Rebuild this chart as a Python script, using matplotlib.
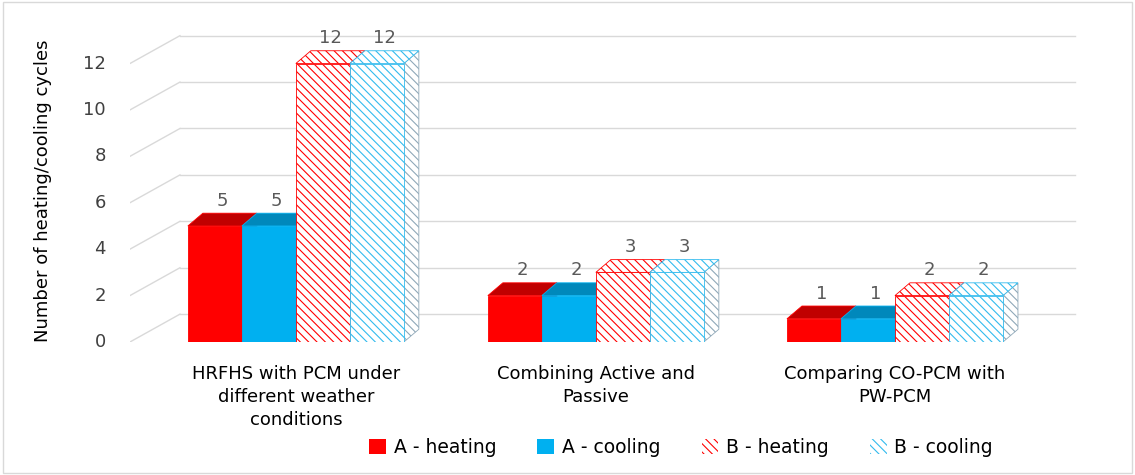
import numpy as np
import matplotlib.pyplot as plt
from matplotlib.patches import Polygon, Patch

categories = ["HRFHS with PCM under\ndifferent weather\nconditions",
              "Combining Active and\nPassive",
              "Comparing CO-PCM with\nPW-PCM"]
series = ["A - heating", "A - cooling", "B - heating", "B - cooling"]
values = {
    "A - heating": [5, 2, 1],
    "A - cooling": [5, 2, 1],
    "B - heating": [12, 3, 2],
    "B - cooling": [12, 3, 2],
}
yticks = [0, 2, 4, 6, 8, 10, 12]

red, red_dark = "#FF0000", "#C00000"
blue, blue_dark = "#00B0F0", "#0088BB"
styles = {
    "A - heating": dict(face=red, top=red_dark, side=red_dark, hatch=None),
    "A - cooling": dict(face=blue, top=blue_dark, side=blue_dark, hatch=None),
    "B - heating": dict(face="white", top="white", side="white", hatch="\\\\\\\\", hc=red),
    "B - cooling": dict(face="white", top="white", side="white", hatch="\\\\\\\\", hc="#33BBEE"),
}

fig = plt.figure(figsize=(11.35, 4.75), dpi=100)
fig.patches.append(plt.Rectangle((0.003, 0.005), 0.994, 0.99, transform=fig.transFigure,
                                 fill=False, edgecolor="#D9D9D9", lw=1))
ax = fig.add_axes([0.1145, 0.28, 0.837, 0.684])
ax.set_xlim(0, 950 / 300)
ax.set_ylim(0, 14)
ax.axis("off")

# back wall offset and bar depth
wx, wy = 50 / 300, 1.2
bdx, bdy = 0.05, 0.55
xend = 945 / 300

for v in yticks:
    ax.plot([wx, xend], [v + wy, v + wy], color="#D9D9D9", lw=1, zorder=0)
    ax.plot([0, wx], [v, v + wy], color="#D9D9D9", lw=1, zorder=0)
    ax.text(-0.08, v, str(v), ha="right", va="center", fontsize=13, color="#404040",
            clip_on=False)
ax.text(-0.29, 6.5, "Number of heating/cooling cycles", rotation=90, ha="center",
        va="center", fontsize=13, color="black", clip_on=False)

w = 0.18
centers = np.array([0.553, 1.553, 2.55])
plt.rcParams["hatch.linewidth"] = 0.8
for gi, c in enumerate(centers):
    for si, s in enumerate(series):
        st = styles[s]
        v = values[s][gi]
        x0 = c - 2 * w + si * w
        x1 = x0 + w
        hc = st.get("hc")
        kw = dict(lw=0.6, zorder=3 + si)
        if st["hatch"]:
            kw.update(hatch=st["hatch"], edgecolor=hc)
        else:
            kw.update(edgecolor=st["face"])
        # side
        side = [(x1, 0), (x1 + bdx, bdy), (x1 + bdx, v + bdy), (x1, v)]
        sk = dict(kw)
        if st["hatch"]:
            sk["edgecolor"] = "#8FA8B8" if s == "B - cooling" else "#D08080"
        ax.add_patch(Polygon(side, closed=True, facecolor=st["side"], **sk))
        # top
        top = [(x0, v), (x0 + bdx, v + bdy), (x1 + bdx, v + bdy), (x1, v)]
        ax.add_patch(Polygon(top, closed=True, facecolor=st["top"], **kw))
        # front
        ax.bar(x0, v, width=w, align="edge", color=st["face"], **kw)
        ax.text(x0 + w / 2 + bdx / 2, v + bdy + 0.15, str(v), ha="center", va="bottom",
                fontsize=13, color="#595959", zorder=10)
    ax.text(c, -1.0, categories[gi], ha="center", va="top", fontsize=13,
            linespacing=1.35, clip_on=False)

handles = []
for s in series:
    st = styles[s]
    if st["hatch"]:
        handles.append(Patch(facecolor="white", edgecolor=st["hc"], hatch="\\\\\\\\", lw=0, label=s))
    else:
        handles.append(Patch(facecolor=st["face"], label=s))
fig.legend(handles=handles, loc="center", bbox_to_anchor=(0.6, 0.058), ncol=4,
           frameon=False, fontsize=13.5, handlelength=0.9, handleheight=0.9,
           handletextpad=0.4, columnspacing=2.2)

fig.savefig("out.png", dpi=100)
